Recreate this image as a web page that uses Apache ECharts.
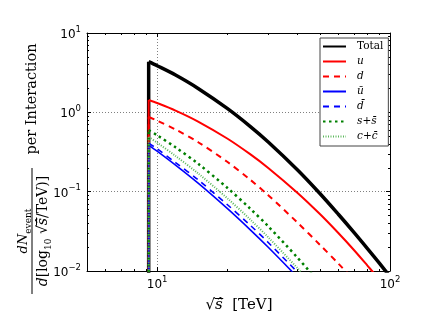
<!DOCTYPE html>
<html>
<head>
<meta charset="utf-8">
<script src="https://cdn.jsdelivr.net/npm/echarts@6/dist/echarts.min.js"></script>
<style>
html, body { margin: 0; padding: 0; background: #fff; }
#chart { width: 436px; height: 327px; }
</style>
</head>
<body>
<div id="chart"></div>
<script>
// 阈值：所有曲线在这里打开
const threshold = 9.2;
const floorValue = 0.001;

// sqrt(s) [TeV]
const xValues = [9.2, 10, 12, 15, 20, 25, 30, 40, 50, 60, 70, 80, 90, 100];
// dN/dlog10 per interaction
const totalValues = [4.35, 3.87, 2.95, 2.00, 1.12, 0.671, 0.423, 0.189, 0.0948, 0.0519, 0.0307, 0.0192, 0.0126, 0.0085];
const uValues = [1.43, 1.31, 1.053, 0.766, 0.468, 0.299, 0.199, 0.097, 0.0522, 0.0301, 0.0184, 0.0117, 0.0078, 0.0053];
const dValues = [0.873, 0.787, 0.608, 0.420, 0.238, 0.143, 0.0904, 0.0409, 0.0214, 0.0124, 0.0077, 0.0050];
const ubarValues = [0.387, 0.324, 0.216, 0.128, 0.0615, 0.0335, 0.0199, 0.0084];
const dbarValues = [0.41, 0.347, 0.233, 0.141, 0.0689, 0.0382, 0.0229, 0.0097];
const ssbarValues = [0.598, 0.515, 0.362, 0.225, 0.112, 0.0618, 0.0366, 0.0148, 0.0070];
const ccbarValues = [0.489, 0.415, 0.282, 0.170, 0.0828, 0.0451, 0.0266, 0.0109, 0.0052];

const seriesNames = ['Total', 'u', 'd', 'ubar', 'dbar', 's+sbar', 'c+cbar'];
const legendLabels = ['{r|Total}', '{i|u}', '{i|d}', '{i|ū}', '{i|d̄}', '{i|s}{r|+}{i|s̄}', '{i|c}{r|+}{i|c̄}'];

// 刻度
const xMajorTicks = [10, 100];
const xMinorTicks = [6, 7, 8, 9, 20, 30, 40, 50, 60, 70, 80, 90];
const yMajorTicks = [0.01, 0.1, 1, 10];
const yMinorTicks = [0.02, 0.03, 0.04, 0.05, 0.06, 0.07, 0.08, 0.09,
	0.2, 0.3, 0.4, 0.5, 0.6, 0.7, 0.8, 0.9, 2, 3, 4, 5, 6, 7, 8, 9];

const serif = 'DejaVu Serif';
const sans = 'DejaVu Sans';

function curve(vals) {
	var pts = [];
	for (var i = 0; i < vals.length; i++) {
		pts.push([xValues[i], vals[i]]);
	}
	return pts;
}

function powLabel(v) {
	var e = Math.round(Math.log10(v));
	return '{b|10}{s|' + (e < 0 ? '\u2212' + (-e) : e) + '}';
}

var labelRich = {
	b: { fontFamily: sans, fontSize: 12, color: '#000', lineHeight: 16, verticalAlign: 'bottom' },
	s: { fontFamily: sans, fontSize: 8.5, color: '#000', lineHeight: 10, verticalAlign: 'top' }
};

function makeAxis(kind, position, ticks, len, withLine, withLabel, withSplit) {
	var ax = {
		type: 'log',
		logBase: 10,
		position: position,
		min: kind === 'x' ? 5 : 0.01,
		max: kind === 'x' ? 100 : 10,
		axisLine: { show: withLine, lineStyle: { color: '#000', width: 1 } },
		axisTick: { show: true, inside: true, length: len, customValues: ticks, lineStyle: { color: '#000', width: 1 } },
		axisLabel: { show: false },
		splitLine: { show: false }
	};
	if (withLabel) {
		ax.axisLabel = {
			show: true,
			customValues: ticks,
			margin: kind === 'x' ? 4 : 6,
			formatter: powLabel,
			rich: labelRich
		};
	}
	if (withSplit) {
		ax.splitLine = { show: true, lineStyle: { color: '#808080', width: 1, type: [1, 2] } };
	}
	return ax;
}

// 文字宽度
var mctx = document.createElement('canvas').getContext('2d');
function textWidth(str, size, italic) {
	mctx.font = (italic ? 'italic ' : '') + size + 'px "' + serif + '"';
	return mctx.measureText(str).width;
}

var textRich = function (size, subSize) {
	return {
		r: { fontFamily: serif, fontSize: size, color: '#000' },
		i: { fontFamily: serif, fontSize: size, fontStyle: 'italic', color: '#000' },
		sub: { fontFamily: serif, fontSize: subSize, color: '#000', verticalAlign: 'bottom', lineHeight: subSize, padding: [0, 0, -3, 0] }
	};
};

// x 轴标题
var xtSize = 15;
var wSqrt = textWidth('\u221a', xtSize, false);
var wHat = textWidth('ŝ', xtSize, true);
var wRest = textWidth('  [TeV]', xtSize, false);
var xtX0 = 239 - (wSqrt + wHat + wRest) / 2;

// y 轴标题（分式）
var ftSize = 14;
var subSize = 9;
var wDen1 = textWidth('d', ftSize, true) + textWidth('[log', ftSize, false);
var wDen10 = textWidth('10', subSize, false);
var wDenSq = textWidth(' \u221a', ftSize, false);
var wDenHat = textWidth('ŝ', ftSize, true);
var wDenRest = textWidth('/TeV)]', ftSize, false);
var denW = wDen1 + wDen10 + wDenSq + wDenHat + wDenRest;
var denX0 = -denW / 2;
var denSqEnd = denX0 + wDen1 + wDen10 + wDenSq;

var myChart = echarts.init(document.getElementById('chart'), null, { renderer: 'canvas' });

var styles = [
	{ color: '#000000', width: 3.5, type: 'solid' },
	{ color: '#ff0000', width: 2, type: 'solid' },
	{ color: '#ff0000', width: 2, type: [6, 5] },
	{ color: '#0000ff', width: 1.6, type: 'solid' },
	{ color: '#0000ff', width: 1.6, type: [6, 5] },
	{ color: '#008000', width: 2.5, type: [2.5, 3.5] },
	{ color: '#5cb85c', width: 2, type: [1, 1.5] }
];
var allValues = [totalValues, uValues, dValues, ubarValues, dbarValues, ssbarValues, ccbarValues];

var series = [];
for (var k = 0; k < seriesNames.length; k++) {
	var ls = { color: styles[k].color, width: styles[k].width, type: styles[k].type, cap: 'butt' };
	// 曲线
	series.push({
		name: seriesNames[k],
		type: 'line',
		data: curve(allValues[k]),
		symbol: 'none',
		smooth: 0.3,
		clip: true,
		lineStyle: ls,
		itemStyle: { color: styles[k].color },
		emphasis: { disabled: true }
	});
	// 阈值处的竖线
	series.push({
		name: seriesNames[k],
		type: 'line',
		data: [[threshold, floorValue], [threshold, allValues[k][0]]],
		symbol: 'none',
		clip: true,
		lineStyle: ls,
		itemStyle: { color: styles[k].color },
		emphasis: { disabled: true }
	});
}

var option = {
	animation: false,
	backgroundColor: '#fff',
	grid: { left: 87, top: 33, right: 46, bottom: 56, containLabel: false },
	xAxis: [
		makeAxis('x', 'bottom', xMajorTicks, 4, true, true, true),
		makeAxis('x', 'bottom', xMinorTicks, 2, false, false, false),
		makeAxis('x', 'top', xMajorTicks, 4, true, false, false),
		makeAxis('x', 'top', xMinorTicks, 2, false, false, false)
	],
	yAxis: [
		makeAxis('y', 'left', yMajorTicks, 4, true, true, true),
		makeAxis('y', 'left', yMinorTicks, 2, false, false, false),
		makeAxis('y', 'right', yMajorTicks, 4, true, false, false),
		makeAxis('y', 'right', yMinorTicks, 2, false, false, false)
	],
	legend: {
		left: 320,
		top: 38,
		orient: 'vertical',
		itemWidth: 23,
		itemHeight: 12,
		itemGap: 4,
		padding: [3, 5, 4, 2],
		borderColor: '#444',
		borderWidth: 1,
		borderRadius: 0,
		backgroundColor: '#fff',
		selectedMode: false,
		data: seriesNames,
		itemStyle: { opacity: 0 },
		formatter: function (name) {
			return legendLabels[seriesNames.indexOf(name)];
		},
		textStyle: {
			color: '#000',
			padding: [0, 0, 0, 6],
			rich: {
				r: { fontFamily: serif, fontSize: 10.5, color: '#000' },
				i: { fontFamily: serif, fontSize: 10.5, fontStyle: 'italic', color: '#000' }
			}
		}
	},
	graphic: [
		{
			type: 'text',
			x: 239,
			y: 305,
			style: {
				text: '{r|\u221a}{i|ŝ}{r|  [TeV]}',
				align: 'center',
				verticalAlign: 'middle',
				rich: textRich(xtSize, 10)
			}
		},
		{
			type: 'line',
			shape: { x1: xtX0 + wSqrt - 0.5, y1: 298.5, x2: xtX0 + wSqrt + wHat + 0.5, y2: 298.5 },
			style: { stroke: '#000', lineWidth: 1 }
		},
		{
			type: 'group',
			x: 32,
			y: 231,
			rotation: Math.PI / 2,
			children: [
				{
					type: 'line',
					shape: { x1: -63, y1: 0, x2: 63, y2: 0 },
					style: { stroke: '#000', lineWidth: 1 }
				},
				{
					type: 'text',
					x: 0,
					y: -2,
					style: {
						text: '{i|dN}{sub|event}',
						align: 'center',
						verticalAlign: 'bottom',
						rich: textRich(13, subSize)
					}
				},
				{
					type: 'text',
					x: 0,
					y: 4,
					style: {
						text: '{i|d}{r|[log}{sub|10}{r| \u221a}{i|ŝ}{r|/TeV)]}',
						align: 'center',
						verticalAlign: 'top',
						rich: textRich(ftSize, subSize)
					}
				},
				{
					type: 'line',
					shape: { x1: denSqEnd - 0.5, y1: 4.5, x2: denSqEnd + wDenHat + 0.5, y2: 4.5 },
					style: { stroke: '#000', lineWidth: 1 }
				},
				{
					type: 'text',
					x: 132,
					y: 0,
					style: {
						text: 'per Interaction',
						align: 'center',
						verticalAlign: 'middle',
						font: '14.5px "' + serif + '"',
						fill: '#000'
					}
				}
			]
		}
	],
	series: series
};

myChart.setOption(option);
</script>
</body>
</html>
